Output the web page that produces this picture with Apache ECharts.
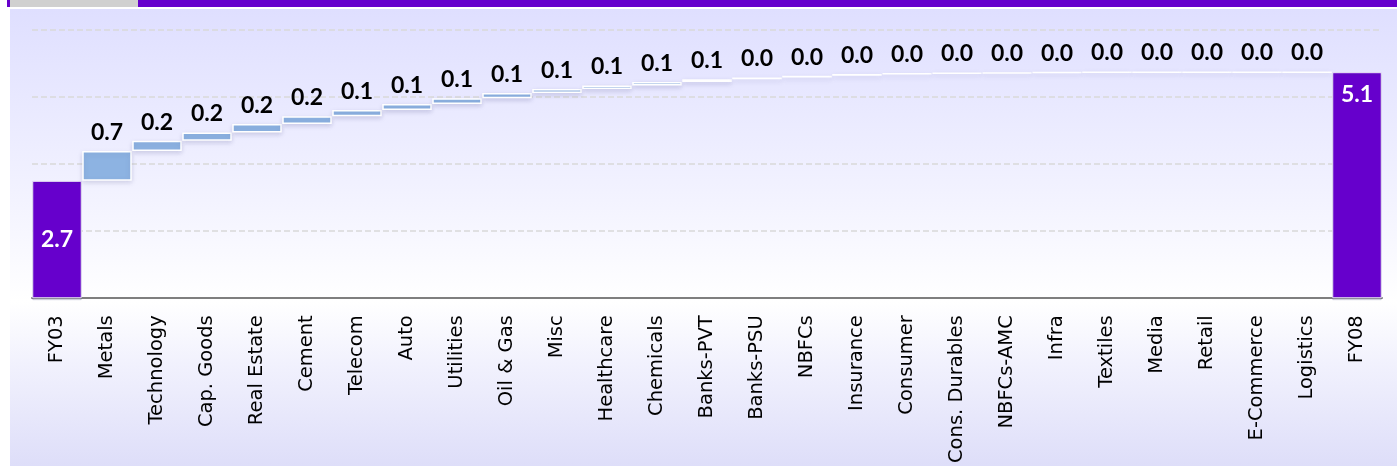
<!DOCTYPE html>
<html>
<head>
<meta charset="utf-8">
<script src="https://cdn.jsdelivr.net/npm/echarts@6/dist/echarts.min.js"></script>
<style>
  html, body { margin: 0; padding: 0; background: #ffffff; }
  #wrap { position: relative; width: 1397px; height: 466px; overflow: hidden; }
  .strip { position: absolute; top: 0; height: 7px; }
  #panel {
    position: absolute; left: 10px; top: 9px; width: 1387px; height: 457px;
    background: linear-gradient(to bottom, #dfdfff 0%, #f2f2ff 40%, #ffffff 64%, #f1f1fd 78%, #dedef9 100%);
  }
  #chart { position: absolute; left: 0; top: 0; width: 1397px; height: 466px; }
</style>
</head>
<body>
<div id="wrap">
  <div class="strip" style="left:7px;width:1390px;background:#6600cc;"></div>
  <div class="strip" style="left:10px;width:128px;background:#d0d0d0;"></div>
  <div id="panel"></div>
  <div id="chart"></div>
</div>
<script>
// Profit pool bridge: opening total, sector contributions, closing total
const startLabel = 'FY03';
const endLabel = 'FY08';
const startTotal = 2.67;
const endTotal = 5.14;

const sectorNames = [
  'Metals', 'Technology', 'Cap. Goods', 'Real Estate', 'Cement', 'Telecom',
  'Auto', 'Utilities', 'Oil & Gas', 'Misc', 'Healthcare', 'Chemicals',
  'Banks-PVT', 'Banks-PSU', 'NBFCs', 'Insurance', 'Consumer', 'Cons. Durables',
  'NBFCs-AMC', 'Infra', 'Textiles', 'Media', 'Retail', 'E-Commerce', 'Logistics'
];
const sectorDelta = [
  0.68, 0.23, 0.19, 0.19, 0.18, 0.14,
  0.14, 0.13, 0.12, 0.09, 0.08, 0.08,
  0.06, 0.04, 0.04, 0.04, 0.01, 0.01,
  0.01, 0.01, 0.00, 0.00, 0.00, 0.00, 0.00
];

const categories = [startLabel].concat(sectorNames, [endLabel]);

const TOTAL_COLOR = '#6600cc';
const STEP_COLOR = '#8db3e2';
const fmt = v => Number(v).toFixed(1);

// invisible offsets + visible bars, stacked
const baseData = [0];
const barData = [{
  value: startTotal,
  itemStyle: { color: TOTAL_COLOR, borderColor: '#e8e4f4', borderWidth: 1, shadowBlur: 0 },
  label: { position: 'inside', color: '#ffffff' }
}];
let running = startTotal;
sectorDelta.forEach(d => {
  baseData.push(+running.toFixed(4));
  barData.push({ value: d });
  running += d;
});
baseData.push(0);
barData.push({
  value: endTotal,
  itemStyle: { color: TOTAL_COLOR, borderColor: '#e8e4f4', borderWidth: 1, shadowBlur: 0 },
  label: { position: 'insideTop', distance: 11, color: '#ffffff' }
});

const chart = echarts.init(document.getElementById('chart'), null, { renderer: 'canvas' });
chart.setOption({
  backgroundColor: 'transparent',
  animation: false,
  grid: { left: 32, right: 15, top: 30, bottom: 166, containLabel: false },
  xAxis: {
    type: 'category',
    data: categories,
    axisTick: { show: false },
    axisLine: { lineStyle: { color: '#7f7f7f', width: 2 } },
    axisLabel: {
      interval: 0, rotate: 90, margin: 17,
      fontFamily: 'DejaVu Sans', fontSize: 19.5, color: '#000000'
    }
  },
  yAxis: {
    type: 'value',
    min: 0, max: 6.1, interval: 1.525,
    axisLabel: { show: false },
    axisTick: { show: false },
    axisLine: { show: false },
    splitLine: { lineStyle: { color: '#d9d9d9', width: 1.5, type: [6, 3] } }
  },
  series: [
    {
      name: 'offset',
      type: 'bar',
      stack: 'bridge',
      barCategoryGap: '1%',
      silent: true,
      itemStyle: { color: 'rgba(0,0,0,0)' },
      data: baseData
    },
    {
      name: 'contribution',
      type: 'bar',
      stack: 'bridge',
      barCategoryGap: '1%',
      itemStyle: {
        color: STEP_COLOR,
        borderColor: '#ffffff',
        borderWidth: 1.5,
        shadowColor: 'rgba(60,60,120,0.18)',
        shadowBlur: 5,
        shadowOffsetY: 2
      },
      label: {
        show: true,
        position: 'top',
        distance: 7,
        fontFamily: 'Lato',
        fontWeight: 'bold',
        fontSize: 23,
        color: '#000000',
        formatter: p => fmt(p.value)
      },
      data: barData
    }
  ]
});
</script>
</body>
</html>
